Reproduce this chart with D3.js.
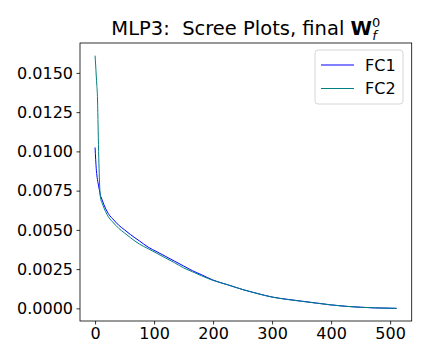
<!DOCTYPE html>
<html>
<head>
<meta charset="utf-8">
<script src="https://cdn.jsdelivr.net/npm/d3@7"></script>
<style>
  body { margin: 0; background: #fff; }
  text { font-family: "DejaVu Sans", sans-serif; fill: #000; }
</style>
</head>
<body>
<svg id="chart" width="432" height="360"></svg>
<script>
// scree plot values (singular value index -> value)
var idx = [0, 1, 2, 3, 4, 5, 6, 7, 8, 9, 10, 12, 15, 20, 25, 30, 40, 50, 60, 75, 90,
           105, 120, 135, 150, 165, 180, 200, 225, 250, 275, 300, 325, 350, 375,
           400, 425, 450, 475, 500, 511];
var fc1 = [0.01025, 0.0095, 0.0089, 0.0085, 0.0082, 0.0080, 0.0078, 0.0076, 0.0074, 0.0072,
           0.0071, 0.0069, 0.0066, 0.0062, 0.0059, 0.0057, 0.0053, 0.0050, 0.0047, 0.0043,
           0.0039, 0.0036, 0.0033, 0.0030, 0.0027, 0.0024, 0.00215, 0.0018, 0.0015, 0.0012,
           0.00095, 0.00072, 0.00058, 0.00046, 0.00034, 0.00022, 0.00013, 0.00007, 0.00003,
           0.00001, 0.0];
var fc2 = [0.0161, 0.0155, 0.0148, 0.0142, 0.0135, 0.0118, 0.0100, 0.0086, 0.0076, 0.0071,
           0.0069, 0.0067, 0.0064, 0.0060, 0.0057, 0.0055, 0.0051, 0.0048, 0.0045, 0.0041,
           0.0038, 0.0035, 0.0032, 0.0029, 0.00258, 0.00233, 0.00208, 0.00178, 0.0015, 0.0012,
           0.00094, 0.00072, 0.00057, 0.00045, 0.00033, 0.00022, 0.00013, 0.00007, 0.00003,
           0.00001, 0.0];
var seriesNames = ["FC1", "FC2"];
var seriesColors = ["blue", "teal"];
var xTicks = [0, 100, 200, 300, 400, 500];
var yTicks = [0, 0.0025, 0.005, 0.0075, 0.01, 0.0125, 0.015];

var svg = d3.select("#chart");
var plotL = 80, plotR = 411.7, plotT = 43, plotB = 321;

// matplotlib-ish 5% margins
var xMax = d3.max(idx), yMax = d3.max(fc1.concat(fc2));
var x = d3.scaleLinear()
    .domain([-0.05 * xMax, xMax * 1.05])
    .range([plotL, plotR]);
var y = d3.scaleLinear()
    .domain([-0.05 * yMax, yMax * 1.05])
    .range([plotB, plotT]);

svg.append("rect").attr("width", 432).attr("height", 360).attr("fill", "#fff");

var line = d3.line()
    .curve(d3.curveMonotoneX)
    .x(function(d) { return x(d[0]); })
    .y(function(d) { return y(d[1]); });

[fc1, fc2].forEach(function(vals, k) {
    svg.append("path")
        .datum(idx.map(function(v, i) { return [v, vals[i]]; }))
        .attr("fill", "none")
        .attr("stroke", seriesColors[k])
        .attr("stroke-width", 1)
        .attr("d", line);
});

// axes
var xAxis = svg.append("g")
    .attr("transform", "translate(0," + plotB + ")")
    .call(d3.axisBottom(x).tickValues(xTicks).tickSize(3.5).tickPadding(3.5));
var yAxis = svg.append("g")
    .attr("transform", "translate(" + plotL + ",0)")
    .call(d3.axisLeft(y).tickValues(yTicks).tickSize(3.5).tickPadding(3.5)
        .tickFormat(d3.format(".4f")));
[xAxis, yAxis].forEach(function(g) {
    g.select(".domain").remove();
    g.selectAll("text").style("font-size", "16px").attr("fill", "#000");
    g.selectAll("line").attr("stroke", "#000").attr("stroke-width", 0.8);
});

// frame
svg.append("rect")
    .attr("x", plotL).attr("y", plotT)
    .attr("width", plotR - plotL).attr("height", plotB - plotT)
    .attr("fill", "none").attr("stroke", "#000").attr("stroke-width", 0.8);

// title
var title = svg.append("text")
    .attr("x", (plotL + plotR) / 2).attr("y", 35)
    .attr("text-anchor", "middle")
    .style("font-size", "19.5px");
title.append("tspan").text("MLP3:\u00a0\u00a0Scree Plots, final ");
title.append("tspan").attr("font-weight", "bold").text("W");
title.append("tspan").attr("font-size", "13px").attr("dy", -8).text("0");
title.append("tspan").attr("font-size", "13px").attr("font-style", "italic")
    .attr("dx", -8).attr("dy", 13).text("f");

// legend
var lg = svg.append("g");
lg.append("rect")
    .attr("x", 315).attr("y", 50).attr("width", 88).attr("height", 54)
    .attr("rx", 3).attr("fill", "#fff").attr("fill-opacity", 0.8)
    .attr("stroke", "#ccc").attr("stroke-width", 0.8);
seriesNames.forEach(function(name, k) {
    var yy = 65 + k * 23.5;
    lg.append("line")
        .attr("x1", 321).attr("x2", 354).attr("y1", yy).attr("y2", yy)
        .attr("stroke", seriesColors[k]).attr("stroke-width", 1);
    lg.append("text")
        .attr("x", 365).attr("y", yy + 5.5)
        .style("font-size", "16px").text(name);
});
</script>
</body>
</html>
